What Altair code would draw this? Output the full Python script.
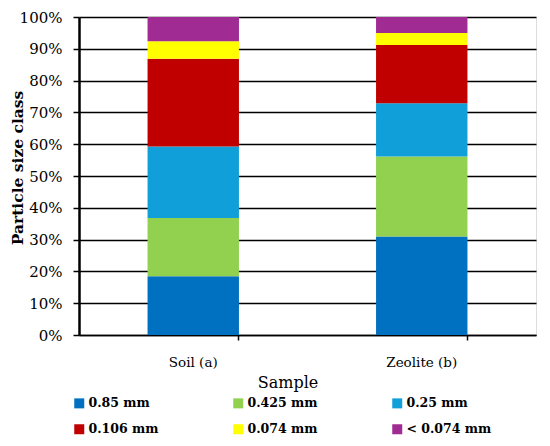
import altair as alt
import pandas as pd

samples = ["Soil (a)", "Zeolite (b)"]
classes = ["0.85 mm", "0.425 mm", "0.25 mm", "0.106 mm", "0.074 mm", "< 0.074 mm"]
colors = ["#0070C0", "#92D050", "#109FD8", "#C00000", "#FFFF00", "#A02B93"]
soil = [18.5, 18.3, 22.5, 27.6, 5.5, 7.6]
zeolite = [31.0, 25.1, 16.8, 18.3, 3.8, 5.0]

rows = []
for s, vals in zip(samples, [soil, zeolite]):
    for i, (c, v) in enumerate(zip(classes, vals)):
        rows.append({"Sample": s, "Class": c, "Value": v, "order": i})
df = pd.DataFrame(rows)

FONT = "DejaVu Serif"

chart = alt.Chart(df).mark_bar().encode(
    x=alt.X("Sample:N", sort=samples,
            scale=alt.Scale(paddingInner=0.6, paddingOuter=0.3),
            axis=alt.Axis(title="Sample", labelAngle=0, bandPosition=1,
                          ticks=True, tickSize=5, tickColor="black", tickWidth=1.5,
                          domainColor="black", domainWidth=1.5,
                          labelFontSize=13.5, labelFont=FONT, labelColor="black", labelPadding=15,
                          titleFontSize=16, titleFont=FONT, titleFontWeight="normal",
                          titleColor="black", titleX=208.5, titleY=47,
                          titleAlign="center", titleBaseline="middle")),
    y=alt.Y("Value:Q", stack="zero",
            scale=alt.Scale(domain=[0, 100], nice=False),
            axis=alt.Axis(title="Particle size class", values=list(range(0, 101, 10)),
                          labelExpr="datum.value + '%'",
                          grid=True, gridColor="black", gridWidth=1.5,
                          tickSize=6, tickColor="black", tickWidth=1.5,
                          domainColor="black", domainWidth=2.5,
                          labelFontSize=15, labelFont=FONT, labelColor="black", labelPadding=11,
                          titleFontSize=15.5, titleFont=FONT, titleFontWeight="bold",
                          titleColor="black", titleX=-61.5, titleY=150.5,
                          titleAlign="center", titleBaseline="middle")),
    color=alt.Color("Class:N", sort=classes,
                    scale=alt.Scale(domain=classes, range=colors),
                    legend=alt.Legend(title=None, orient="none", legendX=-6, legendY=380,
                                      direction="horizontal", columns=3,
                                      symbolType="square", symbolSize=100, symbolStrokeWidth=0,
                                      labelFont=FONT, labelFontSize=12.5, labelFontWeight="bold",
                                      labelColor="black", labelOffset=3,
                                      columnPadding=58, rowPadding=13, gridAlign="all",
                                      labelLimit=200)),
    order=alt.Order("order:Q"),
).properties(
    width=457, height=318,
    padding={"left": 71, "top": 9, "right": 6, "bottom": 103},
    autosize=alt.AutoSizeParams(type="none"),
).configure_view(stroke="black", strokeWidth=1.5).configure(background="white")

chart.save("out.html", embed_options={"renderer": "svg", "actions": False})
